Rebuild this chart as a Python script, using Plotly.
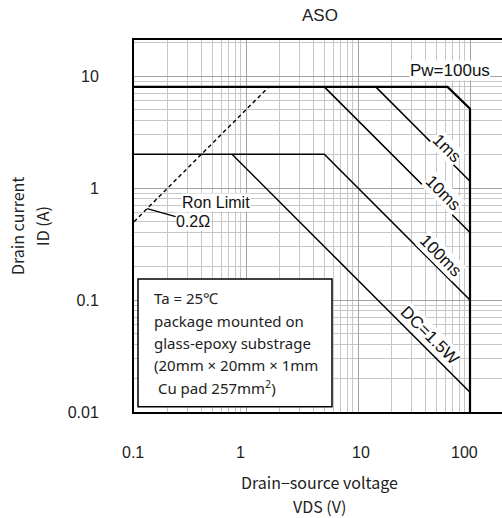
import plotly.graph_objects as go
import math

# ---- data (V in volts, I in amperes) ----
ron_v = [0.1, 1.6]
ron_i = [0.5, 8.0]
pw100us_v = [0.1, 63, 100, 100]
pw100us_i = [8.0, 8.0, 5.1, 0.01]
ms1_v = [14.4, 100]
ms1_i = [8.0, 1.15]
ms10_v = [5.0, 100]
ms10_i = [8.0, 0.40]
ms100_v = [0.1, 5.0, 100]
ms100_i = [2.0, 2.0, 0.10]
dc_v = [0.75, 100]
dc_i = [2.0, 0.015]

x_tick_vals = [0.1, 1, 10, 100]
x_tick_text = ["0.1", "1", "10", "100"]
y_tick_vals = [0.01, 0.1, 1, 10]
y_tick_text = ["0.01", "0.1", "1", "10"]

minor_x = [m * 10 ** e for e in range(-1, 3) for m in range(2, 10)]
minor_y = [m * 10 ** e for e in range(-2, 2) for m in range(2, 10)]

X_RANGE = [-1, 2.2857]
Y_RANGE = [-2, 1.3214]

fig = go.Figure()

def add_line(v, i, width=1.5, dash="solid"):
    fig.add_trace(go.Scatter(x=v, y=i, mode="lines", showlegend=False,
                             line=dict(color="black", width=width, dash=dash),
                             hoverinfo="skip"))

add_line(ron_v, ron_i, 1.4, "4px,3px")
add_line(ms100_v, ms100_i, 1.5)
add_line(dc_v, dc_i, 1.5)
add_line(ms10_v, ms10_i, 1.5)
add_line(ms1_v, ms1_i, 1.5)
add_line(pw100us_v, pw100us_i, 2.2)

label_font = dict(family="Liberation Sans", size=17, color="#111")
ax_font = dict(family="Noto Sans CJK JP", size=16, color="#222")
tick_font = dict(family="Liberation Sans", size=16, color="#222")

def lab(text, lx, ly, angle=0, size=17):
    fig.add_annotation(x=lx, y=ly, xref="x", yref="y", text=text, showarrow=False,
                       textangle=angle, bgcolor="white", borderpad=0,
                       font=dict(label_font, size=size))

lab("Pw=100us", 1.821, 1.045)
lab("1ms", 1.795, 0.357, 45)
lab("10ms", 1.762, -0.05, 45)
lab("100ms", 1.735, -0.605, 45)
lab("DC=1.5W", 1.643, -1.3125, 45)
lab("Ron Limit", -0.268, -0.125, 0, 16)
fig.add_annotation(x=math.log10(0.131), y=math.log10(0.655), xref="x", yref="y",
                   text="0.2Ω", showarrow=True, arrowhead=0, arrowwidth=1.3,
                   arrowcolor="black", ax=46, ay=13, bgcolor="white", borderpad=0,
                   font=dict(label_font, size=16))

# condition box
fig.add_shape(type="rect", xref="paper", yref="paper", x0=0.0109, x1=0.538,
              y0=0.0142, y1=0.3575, line=dict(color="black", width=1.5),
              fillcolor="white", layer="above")
box_font = dict(family="Noto Sans", size=15, color="#222")
box_lines = ["Ta = 25℃", "package mounted on", "glass-epoxy substrage",
             "(20mm × 20mm × 1mm", " Cu pad 257mm<sup>2</sup>)"]
box_y = [0.3065, 0.2446, 0.1855, 0.1263, 0.0672]
for t, yy in zip(box_lines, box_y):
    fig.add_annotation(x=0.0489, y=yy, xref="paper", yref="paper", text=t,
                       showarrow=False, xanchor="left", yanchor="middle", font=box_font)

# x tick labels on the x scale (small pixel shifts as in the reference)
x_label_shift = [-1, -6, 3, -6]
for v, t, s in zip(x_tick_vals, x_tick_text, x_label_shift):
    fig.add_annotation(x=math.log10(v), y=-0.110, xref="x", yref="paper",
                       text=t, showarrow=False, xanchor="center", yanchor="middle",
                       xshift=s, font=tick_font)

# titles
def ptext(text, px, py, angle=0, font=ax_font):
    fig.add_annotation(x=px, y=py, xref="paper", yref="paper", text=text,
                       showarrow=False, textangle=angle, xanchor="center",
                       yanchor="middle", font=font)

ptext("ASO", 0.505, 1.067, 0, dict(family="Liberation Sans", size=17, color="#222"))
ptext("Drain−source voltage", 0.505, -0.188)
ptext("VDS (V)", 0.505, -0.253)
ptext("Drain current", -0.318, 0.5, -90)
ptext("ID (A)", -0.25, 0.5, -90)

grid_major = "#a3a3a3"
grid_minor = "#c6c6c6"

fig.update_xaxes(type="log", range=X_RANGE, tickmode="array",
                 tickvals=x_tick_vals, ticktext=x_tick_text, ticks="",
                 showticklabels=False,
                 showgrid=True, gridcolor=grid_major, gridwidth=1.2,
                 minor=dict(tickmode="array", tickvals=minor_x, showgrid=True,
                            gridcolor=grid_minor, gridwidth=1.2, ticks=""),
                 showline=True, linecolor="black", linewidth=2, mirror=True,
                 zeroline=False)
fig.update_yaxes(type="log", range=Y_RANGE, tickmode="array",
                 tickvals=y_tick_vals, ticktext=y_tick_text, ticks="",
                 showgrid=True, gridcolor=grid_major, gridwidth=1.2,
                 minor=dict(tickmode="array", tickvals=minor_y, showgrid=True,
                            gridcolor=grid_minor, gridwidth=1.2, ticks=""),
                 showline=True, linecolor="black", linewidth=2, mirror=False,
                 tickfont=tick_font, ticklabelstandoff=30, zeroline=False)

fig.update_layout(width=502, height=518, margin=dict(l=134, r=0, t=40, b=106, pad=0),
                  plot_bgcolor="white", paper_bgcolor="white", showlegend=False)

fig.write_html("out.html")
